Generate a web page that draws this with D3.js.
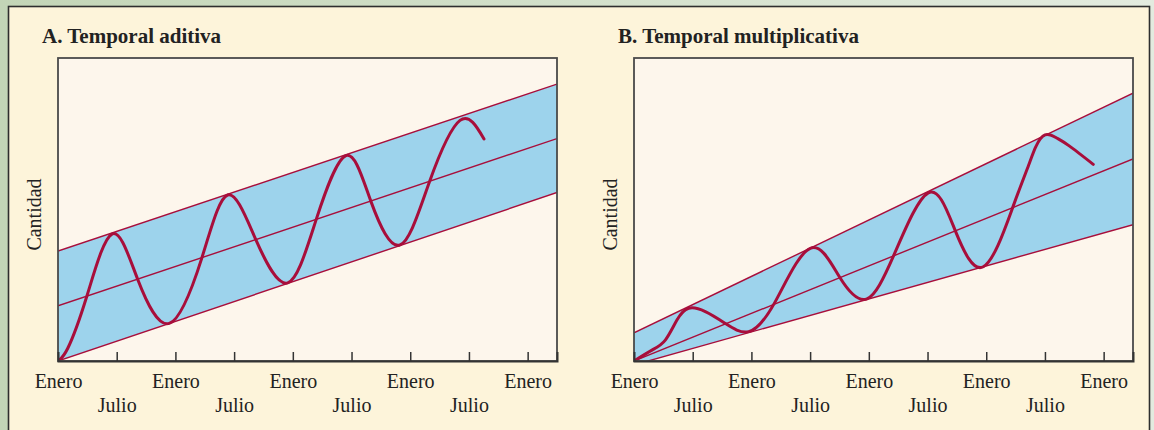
<!DOCTYPE html>
<html><head><meta charset="utf-8">
<script src="https://cdn.jsdelivr.net/npm/d3@7"></script>
<style>html,body{margin:0;padding:0;background:#c9d9bf;} svg{display:block}</style>
</head><body><svg id="c" width="1154" height="430"></svg>
<script>
// ---- data ----
const tickMonths = [0, 6, 12, 18, 24, 30, 36, 42, 48];
const tickLabels = ["Enero", "Julio", "Enero", "Julio", "Enero", "Julio", "Enero", "Julio", "Enero"];
const titles = ["A. Temporal aditiva", "B. Temporal multiplicativa"];
const yLabel = "Cantidad";

// Panel A: additive
const trendA = [[0, 18.2], [51, 73.4]];
const upperA = [[0, 36.3], [51, 91.4]];
const lowerA = [[0, 0], [51, 55.6]];
const seriesA = [[0, 0], [1.0, 4.2], [2.93, 21.2], [5.52, 41.9], [8.14, 27.0], [11.37, 12.4], [14.68, 33.8],
  [17.34, 54.8], [20.24, 39.9], [23.48, 25.8], [26.37, 46.5], [29.44, 67.8], [31.99, 52.6],
  [34.96, 38.3], [37.95, 59.0], [41.09, 79.4], [43.54, 73.3]];

// Panel B: multiplicative
const trendB = [[0, 0], [51, 66.7]];
const upperB = [[0, 9.3], [51, 88.4]];
const lowerB = [[0, -1.3], [51, 45.0]];
const seriesB = [[0, 0], [1.84, 3.6], [3.2, 6.9], [4.39, 13.5], [5.59, 17.4], [7.29, 16.3],
  [9.33, 12.4], [11.72, 9.7], [14.44, 19.6], [18.02, 37.2], [21.09, 27.3], [23.81, 20.5],
  [26.57, 35.0], [30.08, 55.5], [32.81, 43.2], [35.70, 31.1], [38.71, 50.7], [40.4, 65.2],
  [41.06, 70.7], [42.01, 74.6], [43.2, 73.6], [44.48, 71.0], [46.94, 64.9]];

// ---- drawing ----
const svg = d3.select("#c");
const defs = svg.append("defs");
const grad = defs.append("linearGradient").attr("id", "bg").attr("x1", 0).attr("x2", 1).attr("y1", 0).attr("y2", 0);
grad.append("stop").attr("offset", "0").attr("stop-color", "#c3d5b7");
grad.append("stop").attr("offset", "1").attr("stop-color", "#e3ebdf");
svg.append("rect").attr("width", 1154).attr("height", 430).attr("fill", "url(#bg)");
svg.append("rect").attr("x", 8.5).attr("y", 6.5).attr("width", 1141).attr("height", 440)
  .attr("fill", "#fdf4da").attr("stroke", "#2e2e2e").attr("stroke-width", 1.6);

const serif = "'Liberation Serif','Times New Roman',serif";
const red = "#a80e3b";

function panel(id, left, right, series, upper, trend, lower, title, titleX, ylabX) {
  const top = 58, bottom = 361;
  const x = d3.scaleLinear().domain([0, 51]).range([left, right]);
  const y = d3.scaleLinear().domain([0, 100]).range([bottom, top]);
  const g = svg.append("g");
  defs.append("clipPath").attr("id", id).append("rect")
    .attr("x", left).attr("y", top).attr("width", right - left).attr("height", bottom - top);

  g.append("rect").attr("x", left).attr("y", top).attr("width", right - left).attr("height", bottom - top)
    .attr("fill", "#fdf6ec");

  const inner = g.append("g").attr("clip-path", `url(#${id})`);
  const band = upper.concat(lower.slice().reverse());
  inner.append("path").attr("d", d3.line().x(d => x(d[0])).y(d => y(d[1]))(band) + "Z")
    .attr("fill", "#9dd3ec");
  const ln = d3.line().x(d => x(d[0])).y(d => y(d[1]));
  [upper, trend, lower].forEach(l => inner.append("path").attr("d", ln(l))
    .attr("fill", "none").attr("stroke", red).attr("stroke-width", 1.4));
  inner.append("path").attr("d", d3.line().x(d => x(d[0])).y(d => y(d[1])).curve(d3.curveNatural)(series))
    .attr("fill", "none").attr("stroke", red).attr("stroke-width", 3).attr("stroke-linecap", "round");

  // frame
  g.append("rect").attr("x", left).attr("y", top).attr("width", right - left).attr("height", bottom - top)
    .attr("fill", "none").attr("stroke", "#4a4a4a").attr("stroke-width", 1.8);

  // axis
  const ax = g.append("g").attr("transform", `translate(0,${bottom})`)
    .call(d3.axisBottom(x).tickValues(tickMonths).tickSize(-9).tickPadding(0)
      .tickFormat((d, i) => tickLabels[i]));
  ax.select(".domain").attr("stroke", "#333").attr("stroke-width", 2);
  ax.selectAll(".tick line").attr("stroke", "#333").attr("stroke-width", 1.5);
  ax.selectAll(".tick").filter(d => d === 0).select("line").remove();
  ax.selectAll(".tick text").attr("font-family", serif).attr("font-size", 20).attr("fill", "#222")
    .attr("dy", null).attr("y", (d, i) => (i % 2 === 0 ? 27 : 51));

  g.append("text").attr("x", titleX).attr("y", 43).text(title)
    .attr("font-family", serif).attr("font-weight", "bold").attr("font-size", 21).attr("fill", "#222");
  g.append("text").attr("transform", `translate(${ylabX},${(top + bottom) / 2 + 5}) rotate(-90)`)
    .attr("text-anchor", "middle").attr("dy", "0.35em").text(yLabel)
    .attr("font-family", serif).attr("font-size", 20).attr("fill", "#222");
}

panel("clipA", 58, 557, seriesA, upperA, trendA, lowerA, titles[0], 42, 34);
panel("clipB", 634, 1133, seriesB, upperB, trendB, lowerB, titles[1], 618, 610);
</script></body></html>
